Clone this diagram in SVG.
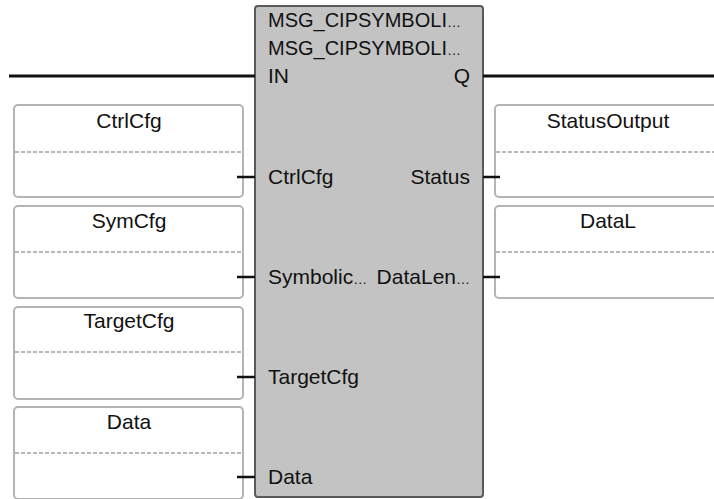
<svg xmlns="http://www.w3.org/2000/svg" width="714" height="499" viewBox="0 0 714 499">
<style>
text{font-family:"Liberation Sans",Arial,sans-serif;font-size:21px;fill:#111}
.hdr{font-size:20px}
.el{font-size:14px}
.mid{text-anchor:middle}
.end{text-anchor:end}
.var{fill:#fff;stroke:#b4b4b4;stroke-width:2}
.dash{stroke:#b8b8b8;stroke-width:2;stroke-dasharray:4 2;fill:none}
.blk{fill:#c3c3c3;stroke:#5a5a5a;stroke-width:2}
.wire{stroke:#111;stroke-width:3;fill:none}
.pin{stroke:#111;stroke-width:2.5;fill:none}
</style>
<rect width="714" height="499" fill="#fff"/>
<g id="fb">
<rect class="blk" x="255" y="6" width="228" height="491" rx="3"/>
<text class="hdr" x="268" y="27">MSG_CIPSYMBOLI<tspan class="el">…</tspan></text>
<text class="hdr" x="268" y="55">MSG_CIPSYMBOLI<tspan class="el">…</tspan></text>
<text x="268" y="83">IN</text>
<text class="end" x="470" y="83">Q</text>
<text x="268" y="184">CtrlCfg</text>
<text x="268" y="284">Symbolic<tspan class="el">…</tspan></text>
<text x="268" y="384">TargetCfg</text>
<text x="268" y="484">Data</text>
<text class="end" x="470" y="184">Status</text>
<text class="end" x="470" y="284">DataLen<tspan class="el">…</tspan></text>
</g>
<g id="var-ctrlcfg">
<rect class="var" x="14" y="105" width="229" height="92" rx="4"/>
<line class="dash" x1="15" y1="152" x2="242" y2="152"/>
<text class="mid" x="129" y="128">CtrlCfg</text>
</g>
<g id="var-symcfg">
<rect class="var" x="14" y="206" width="229" height="92" rx="4"/>
<line class="dash" x1="15" y1="252" x2="242" y2="252"/>
<text class="mid" x="129" y="228">SymCfg</text>
</g>
<g id="var-targetcfg">
<rect class="var" x="14" y="307" width="229" height="92" rx="4"/>
<line class="dash" x1="15" y1="352" x2="242" y2="352"/>
<text class="mid" x="129" y="328">TargetCfg</text>
</g>
<g id="var-data">
<rect class="var" x="14" y="407" width="229" height="92" rx="4"/>
<line class="dash" x1="15" y1="453" x2="242" y2="453"/>
<text class="mid" x="129" y="429">Data</text>
</g>
<g id="var-statusoutput">
<rect class="var" x="495" y="105" width="229" height="92" rx="4"/>
<line class="dash" x1="496" y1="152" x2="714" y2="152"/>
<text class="mid" x="608" y="128">StatusOutput</text>
</g>
<g id="var-datal">
<rect class="var" x="495" y="206" width="229" height="92" rx="4"/>
<line class="dash" x1="496" y1="252" x2="714" y2="252"/>
<text class="mid" x="608" y="228">DataL</text>
</g>
<g id="connectors">
<line class="wire" x1="9" y1="76" x2="255" y2="76"/>
<line class="wire" x1="483" y1="76" x2="714" y2="76"/>
<line class="pin" x1="237" y1="177" x2="255" y2="177"/>
<line class="pin" x1="237" y1="277" x2="255" y2="277"/>
<line class="pin" x1="237" y1="377" x2="255" y2="377"/>
<line class="pin" x1="237" y1="477" x2="255" y2="477"/>
<line class="pin" x1="483" y1="177" x2="500" y2="177"/>
<line class="pin" x1="483" y1="277" x2="500" y2="277"/>
</g>
</svg>
